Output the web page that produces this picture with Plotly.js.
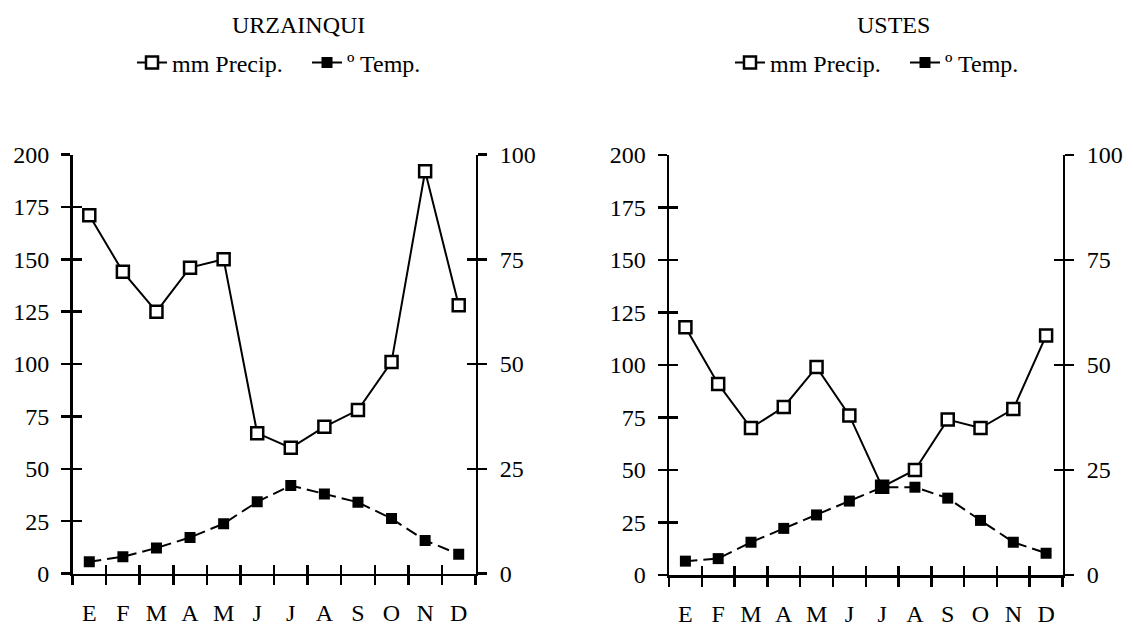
<!DOCTYPE html>
<html>
<head>
<meta charset="utf-8">
<script src="https://cdn.plot.ly/plotly-3.0.1.min.js"></script>
<style>html,body{margin:0;padding:0;background:#fff;}#chart{width:1133px;height:630px;}</style>
</head>
<body>
<div id="chart"></div>
<script>
// ---- data ----
const months = ['E','F','M','A','M','J','J','A','S','O','N','D'];
const stationTitles = ['URZAINQUI','USTES'];
const seriesNames = ['mm Precip.','º Temp.'];
const precipUrzainqui = [171,144,125,146,150,67,60,70,78,101,192,128];
const tempUrzainqui   = [2.8,4.0,6.1,8.6,11.9,17.1,21.0,19.0,17.0,13.1,7.9,4.6];
const precipUstes     = [118,91,70,80,99,76,42,50,74,70,79,114];
const tempUstes       = [3.3,3.9,7.8,11.1,14.3,17.6,20.9,20.9,18.3,13.0,7.8,5.2];
const precipTicks = [0,25,50,75,100,125,150,175,200];
const tempTicks   = [0,25,50,75,100];

const idx = months.map((m,i)=>i);
const FONT = '"Times New Roman", "Liberation Serif", "DejaVu Serif", Times, serif';
const W = 1133, H = 630;
const px = v => v / W;
const py = v => 1 - v / H;

function precipTrace(y, xa, ya, leg){
  return {x: idx, y: y, xaxis: xa, yaxis: ya, legend: leg, name: seriesNames[0], type:'scatter', mode:'lines+markers',
    line:{color:'#000', width:2}, marker:{symbol:'square', size:12, color:'#fff', line:{color:'#000', width:2.5}},
    hoverinfo:'skip'};
}
function tempTrace(y, xa, ya, leg){
  return {x: idx, y: y, xaxis: xa, yaxis: ya, legend: leg, name: seriesNames[1], type:'scatter', mode:'lines+markers',
    line:{color:'#000', width:2, dash:'12px,6px'}, marker:{symbol:'square', size:11, color:'#000', line:{width:0}},
    hoverinfo:'skip'};
}
// carrier traces (draw nothing) so that the overlay tick axes are rendered
function carrier(y, xa, ya){
  return {x: idx, y: y, xaxis: xa, yaxis: ya, type:'scatter', mode:'none', showlegend:false, hoverinfo:'skip'};
}

const data = [
  precipTrace(precipUrzainqui,'x','y','legend'),
  tempTrace(tempUrzainqui,'x','y2','legend'),
  precipTrace(precipUstes,'x2','y5','legend2'),
  tempTrace(tempUstes,'x2','y6','legend2'),
  carrier(precipUrzainqui,'x3','y3'),
  carrier(tempUrzainqui,'x5','y4'),
  carrier(precipUstes,'x4','y7'),
  carrier(tempUstes,'x6','y8')
];

const tickFont = {family: FONT, size: 24, color:'#000'};
const TL = 9, TW = 2.5, LW = 2.5;

function xMain(dom, anchor){
  return {domain: dom, anchor: anchor, range:[-0.5, 11.5], showline:true, linecolor:'#000', linewidth:LW,
    tickmode:'linear', tick0:-0.5, dtick:1, ticks:'outside', ticklen:TL, tickwidth:TW, tickcolor:'#000',
    showticklabels:false, showgrid:false, zeroline:false, fixedrange:true};
}
function xInside(over, anchor){
  return {overlaying: over, anchor: anchor, range:[-0.5, 11.5], showline:false,
    tickmode:'linear', tick0:-0.5, dtick:1, ticks:'inside', ticklen:TL, tickwidth:TW, tickcolor:'#000',
    showticklabels:false, showgrid:false, zeroline:false, fixedrange:true};
}
function xLabels(over, anchor){
  return {overlaying: over, anchor: anchor, range:[-0.5, 11.5], showline:false,
    tickmode:'array', tickvals: idx, ticktext: months, ticks:'', tickfont: tickFont, ticklabelstandoff: 22,
    showgrid:false, zeroline:false, fixedrange:true};
}
function yAxis(opts){
  return Object.assign({showgrid:false, zeroline:false, fixedrange:true, tickmode:'array', tickcolor:'#000',
    ticklen:TL, tickwidth:TW, tickfont: tickFont}, opts);
}

const dom1x = [px(72.5), px(475.5)];
const dom1y = [py(573.5), py(154.5)];
const dom2x = [px(669), px(1062.5)];
const dom2y = [py(575), py(155)];

const layout = {
  width: W, height: H,
  margin:{l:0,r:0,t:0,b:0},
  paper_bgcolor:'#fff', plot_bgcolor:'rgba(0,0,0,0)',
  font:{family: FONT, size: 24, color:'#000'},
  showlegend: true,
  hovermode: false,
  // chart 1
  xaxis: xMain(dom1x,'y'),
  xaxis3: xInside('x','y'),
  xaxis5: xLabels('x','y'),
  yaxis: yAxis({domain: dom1y, anchor:'x', range:[0,200], tickvals: precipTicks, ticks:'outside',
    showline:true, linecolor:'#000', linewidth:LW, ticklabelstandoff: 7}),
  yaxis2: yAxis({overlaying:'y', anchor:'x', side:'right', range:[0,100], tickvals: tempTicks, ticks:'outside',
    showline:true, linecolor:'#000', linewidth:LW, ticklabelstandoff: 8}),
  yaxis3: yAxis({overlaying:'y', anchor:'x', side:'left', range:[0,200], tickvals: precipTicks, ticks:'inside',
    showticklabels:false, showline:false}),
  yaxis4: yAxis({overlaying:'y', anchor:'x', side:'right', range:[0,100], tickvals: tempTicks, ticks:'inside',
    showticklabels:false, showline:false}),
  // chart 2
  xaxis2: xMain(dom2x,'y5'),
  xaxis4: xInside('x2','y5'),
  xaxis6: xLabels('x2','y5'),
  yaxis5: yAxis({domain: dom2y, anchor:'x2', range:[0,200], tickvals: precipTicks, ticks:'outside',
    showline:true, linecolor:'#000', linewidth:LW, ticklabelstandoff: 7}),
  yaxis6: yAxis({overlaying:'y5', anchor:'x2', side:'right', range:[0,100], tickvals: tempTicks, ticks:'outside',
    showline:true, linecolor:'#000', linewidth:LW, ticklabelstandoff: 8}),
  yaxis7: yAxis({overlaying:'y5', anchor:'x2', side:'left', range:[0,200], tickvals: precipTicks, ticks:'inside',
    showticklabels:false, showline:false}),
  yaxis8: yAxis({overlaying:'y5', anchor:'x2', side:'right', range:[0,100], tickvals: tempTicks, ticks:'inside',
    showticklabels:false, showline:false}),
  legend: {orientation:'h', x: px(132), xanchor:'left', y: py(63), yanchor:'middle',
    entrywidth: 130, entrywidthmode:'pixels', bgcolor:'rgba(0,0,0,0)', font:{family: FONT, size:24, color:'#000'},
    itemclick:false, itemdoubleclick:false},
  legend2: {orientation:'h', x: px(730), xanchor:'left', y: py(63), yanchor:'middle',
    entrywidth: 130, entrywidthmode:'pixels', bgcolor:'rgba(0,0,0,0)', font:{family: FONT, size:24, color:'#000'},
    itemclick:false, itemdoubleclick:false},
  annotations: [
    {text: stationTitles[0], xref:'paper', yref:'paper', x: px(298), y: py(25), xanchor:'center', yanchor:'middle',
     showarrow:false, font:{family: FONT, size:24, color:'#000'}},
    {text: stationTitles[1], xref:'paper', yref:'paper', x: px(893), y: py(25), xanchor:'center', yanchor:'middle',
     showarrow:false, font:{family: FONT, size:24, color:'#000'}}
  ]
};

Plotly.newPlot('chart', data, layout, {staticPlot:true, displayModeBar:false});
</script>
</body>
</html>
